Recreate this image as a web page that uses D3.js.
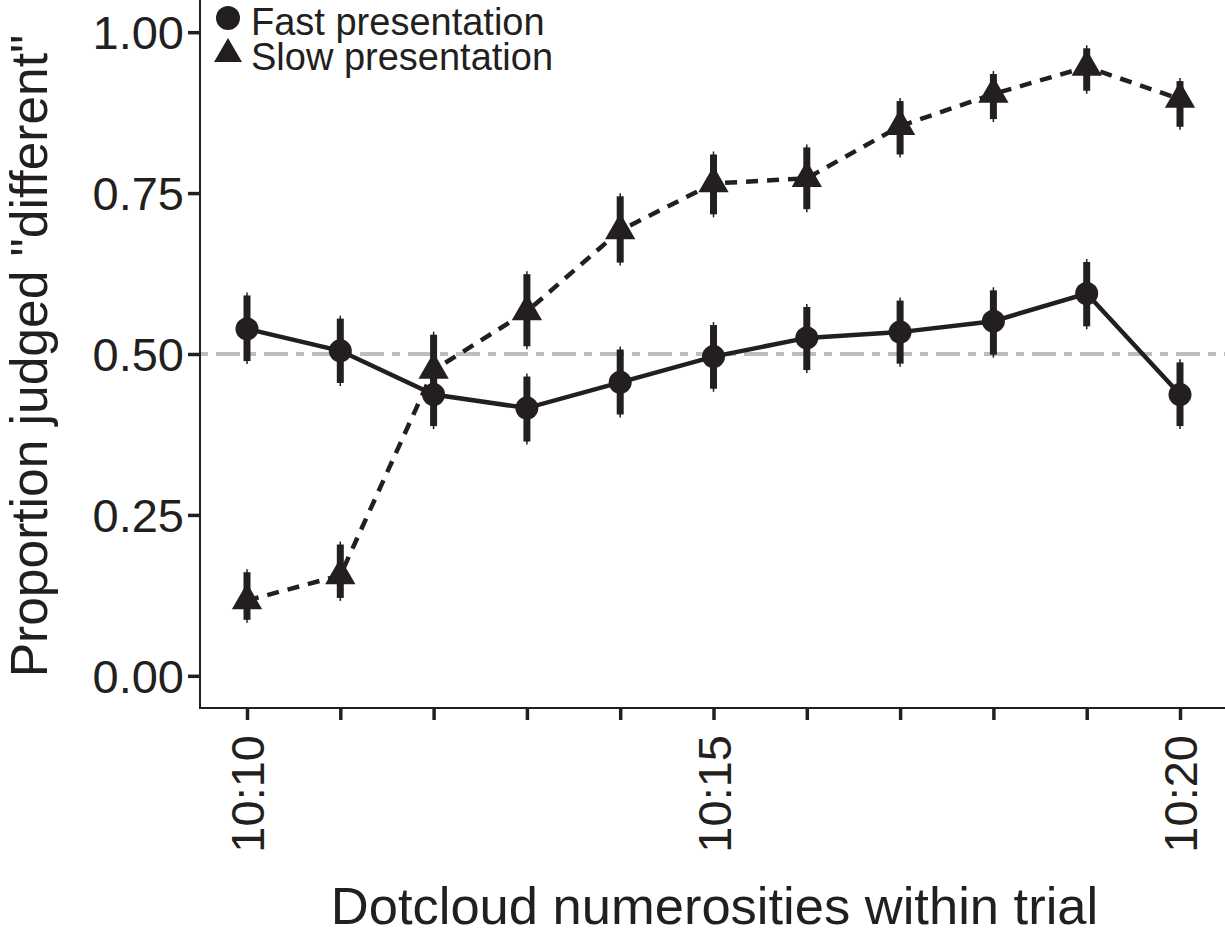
<!DOCTYPE html>
<html>
<head>
<meta charset="utf-8">
<script src="https://cdn.jsdelivr.net/npm/d3@7"></script>
<style>
  html, body { margin: 0; padding: 0; background: #ffffff; }
  svg { display: block; font-family: "Liberation Sans", Arial, Helvetica, sans-serif; }
</style>
</head>
<body>
<svg id="chart" width="1225" height="935"></svg>
<script>
// Numerosity pairs shown within a trial (x categories)
const pairs = ["10:10", "10:11", "10:12", "10:13", "10:14", "10:15",
               "10:16", "10:17", "10:18", "10:19", "10:20"];
const tickLabels = ["10:10", "10:15", "10:20"];
const yTicks = [0, 0.25, 0.5, 0.75, 1];

// Fast presentation: mean proportion and interval bounds
const fastMean = [0.539, 0.505, 0.437, 0.416, 0.456, 0.496, 0.525, 0.534, 0.551, 0.594, 0.437];
const fastLo   = [0.489, 0.455, 0.388, 0.364, 0.406, 0.446, 0.475, 0.485, 0.499, 0.543, 0.388];
const fastHi   = [0.591, 0.555, 0.487, 0.465, 0.507, 0.545, 0.573, 0.583, 0.599, 0.643, 0.487];

// Slow presentation: mean proportion and interval bounds
const slowMean = [0.117, 0.156, 0.475, 0.566, 0.692, 0.765, 0.773, 0.854, 0.904, 0.946, 0.896];
const slowLo   = [0.087, 0.121, 0.420, 0.512, 0.642, 0.717, 0.725, 0.810, 0.865, 0.909, 0.853];
const slowHi   = [0.161, 0.204, 0.530, 0.624, 0.745, 0.810, 0.821, 0.893, 0.935, 0.975, 0.924];

const chanceLevel = 0.5;
const seriesNames = ["Fast presentation", "Slow presentation"];

const ink = "#231f20";
const svg = d3.select("#chart");

const panel = { left: 200, top: 0, right: 1225, bottom: 708 };

const x = d3.scalePoint().domain(pairs).range([247, 1180]);
const y = d3.scaleLinear().domain([-0.05, 1.05]).range([panel.bottom, panel.top]);

const build = (m, lo, hi) => pairs.map((p, i) => ({ pair: p, mean: m[i], lo: lo[i], hi: hi[i] }));
const fast = build(fastMean, fastLo, fastHi);
const slow = build(slowMean, slowLo, slowHi);

// Chance reference line
svg.append("line")
  .attr("x1", panel.left).attr("x2", panel.right)
  .attr("y1", y(chanceLevel)).attr("y2", y(chanceLevel))
  .attr("stroke", "#bebebe").attr("stroke-width", 4)
  .attr("stroke-dasharray", "8,8,24,8");

// Axes
const yAxis = d3.axisLeft(y).tickValues(yTicks).tickFormat(d3.format(".2f")).tickSize(12).tickPadding(4);
const gy = svg.append("g").attr("transform", `translate(${panel.left},0)`).call(yAxis);
gy.select(".domain").attr("stroke", ink).attr("stroke-width", 2)
  .attr("d", `M0,${panel.top}V${panel.bottom + 1}`);
gy.selectAll(".tick line").attr("stroke", ink).attr("stroke-width", 3.5);
gy.selectAll(".tick text").attr("fill", ink).attr("font-size", 47)
  .attr("font-family", "Liberation Sans, Arial, sans-serif").attr("dy", "0.35em");

const xAxis = d3.axisBottom(x).tickSize(12).tickFormat(d => tickLabels.includes(d) ? d : "");
const gx = svg.append("g").attr("transform", `translate(0,${panel.bottom})`).call(xAxis);
gx.select(".domain").attr("stroke", ink).attr("stroke-width", 2)
  .attr("d", `M${panel.left - 1},0H${panel.right}`);
gx.selectAll(".tick line").attr("stroke", ink).attr("stroke-width", 3.5);
gx.selectAll(".tick text")
  .attr("fill", ink).attr("font-size", 47)
  .attr("font-family", "Liberation Sans, Arial, sans-serif")
  .attr("text-anchor", "end")
  .attr("transform", "translate(0,27) rotate(-90)")
  .attr("x", 0).attr("y", 0).attr("dy", "0.36em");

// Axis titles
svg.append("text")
  .attr("x", (panel.left + panel.right) / 2 + 2).attr("y", 924)
  .attr("text-anchor", "middle").attr("fill", ink).attr("font-size", 52.5)
  .text("Dotcloud numerosities within trial");

svg.append("text")
  .attr("transform", `translate(47,${(panel.top + panel.bottom) / 2 + 2}) rotate(-90)`)
  .attr("text-anchor", "middle").attr("fill", ink).attr("font-size", 51.5)
  .text("Proportion judged \"different\"");

// Interval bars: thin whisker plus thick range
function drawBars(data, cls) {
  const g = svg.append("g").attr("class", cls);
  g.selectAll("line.thin").data(data).join("line").attr("class", "thin")
    .attr("x1", d => x(d.pair)).attr("x2", d => x(d.pair))
    .attr("y1", d => y(d.lo) + 3).attr("y2", d => y(d.hi) - 3)
    .attr("stroke", ink).attr("stroke-width", 1.5);
  g.selectAll("line.thick").data(data).join("line").attr("class", "thick")
    .attr("x1", d => x(d.pair)).attr("x2", d => x(d.pair))
    .attr("y1", d => y(d.lo)).attr("y2", d => y(d.hi))
    .attr("stroke", ink).attr("stroke-width", 7);
}
drawBars(fast, "fast-bars");
drawBars(slow, "slow-bars");

// Connecting lines
const line = d3.line().x(d => x(d.pair)).y(d => y(d.mean));
svg.append("path").datum(fast).attr("d", line)
  .attr("fill", "none").attr("stroke", ink).attr("stroke-width", 4.5);
svg.append("path").datum(slow).attr("d", line)
  .attr("fill", "none").attr("stroke", ink).attr("stroke-width", 4.5)
  .attr("stroke-dasharray", "12,9");

// Markers
const circleSym = d3.symbol().type(d3.symbolCircle).size(Math.PI * 11.5 * 11.5);
const triR = 17.5;
const triPath = `M0,${-triR}L${triR * 0.866},${triR / 2}L${-triR * 0.866},${triR / 2}Z`;

svg.append("g").selectAll("path").data(fast).join("path")
  .attr("transform", d => `translate(${x(d.pair)},${y(d.mean)})`)
  .attr("d", circleSym()).attr("fill", ink);
svg.append("g").selectAll("path").data(slow).join("path")
  .attr("transform", d => `translate(${x(d.pair)},${y(d.mean)})`)
  .attr("d", triPath).attr("fill", ink);

// Legend: keys plus one text block with a line per series
const legend = svg.append("g").attr("transform", "translate(228,0)");
legend.append("path").attr("transform", "translate(0,18)")
  .attr("d", d3.symbol().type(d3.symbolCircle).size(Math.PI * 12 * 12)()).attr("fill", ink);
legend.append("path").attr("transform", "translate(0,54)")
  .attr("d", `M0,-16L14,8L-14,8Z`).attr("fill", ink);
legend.append("text")
  .attr("fill", ink).attr("font-size", 38)
  .selectAll("tspan").data(seriesNames).join("tspan")
  .attr("x", 23).attr("y", (d, i) => 35 + i * 35)
  .text(d => d);
</script>
</body>
</html>
